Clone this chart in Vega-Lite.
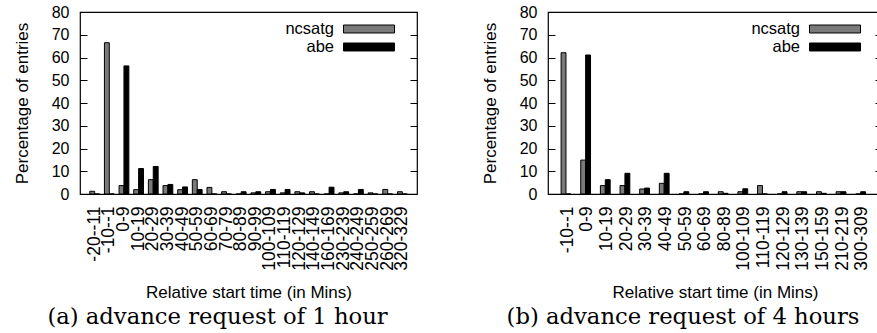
{
  "$schema": "https://vega.github.io/schema/vega-lite/v6.json",
  "background": "white",
  "padding": {"left": 12, "top": 3, "right": 0, "bottom": 0},
  "datasets": {
    "a": [
      {"range": "-20--11", "series": "ncsatg", "pct": 1.2}, {"range": "-20--11", "series": "abe", "pct": 0},
      {"range": "-10--1", "series": "ncsatg", "pct": 66.5}, {"range": "-10--1", "series": "abe", "pct": 0},
      {"range": "0-9", "series": "ncsatg", "pct": 3.7}, {"range": "0-9", "series": "abe", "pct": 56.3},
      {"range": "10-19", "series": "ncsatg", "pct": 1.9}, {"range": "10-19", "series": "abe", "pct": 11.2},
      {"range": "20-29", "series": "ncsatg", "pct": 6.3}, {"range": "20-29", "series": "abe", "pct": 12.1},
      {"range": "30-39", "series": "ncsatg", "pct": 3.7}, {"range": "30-39", "series": "abe", "pct": 4.2},
      {"range": "40-49", "series": "ncsatg", "pct": 1.9}, {"range": "40-49", "series": "abe", "pct": 3.1},
      {"range": "50-59", "series": "ncsatg", "pct": 6.3}, {"range": "50-59", "series": "abe", "pct": 2.0},
      {"range": "60-69", "series": "ncsatg", "pct": 2.9}, {"range": "60-69", "series": "abe", "pct": 0},
      {"range": "70-79", "series": "ncsatg", "pct": 1.0}, {"range": "70-79", "series": "abe", "pct": 0},
      {"range": "80-89", "series": "ncsatg", "pct": 0}, {"range": "80-89", "series": "abe", "pct": 1.0},
      {"range": "90-99", "series": "ncsatg", "pct": 0.5}, {"range": "90-99", "series": "abe", "pct": 1.0},
      {"range": "100-109", "series": "ncsatg", "pct": 1.0}, {"range": "100-109", "series": "abe", "pct": 2.0},
      {"range": "110-119", "series": "ncsatg", "pct": 0.5}, {"range": "110-119", "series": "abe", "pct": 2.0},
      {"range": "120-129", "series": "ncsatg", "pct": 1.0}, {"range": "120-129", "series": "abe", "pct": 0.5},
      {"range": "140-149", "series": "ncsatg", "pct": 1.0}, {"range": "140-149", "series": "abe", "pct": 0},
      {"range": "160-169", "series": "ncsatg", "pct": 0}, {"range": "160-169", "series": "abe", "pct": 3.0},
      {"range": "230-239", "series": "ncsatg", "pct": 0.5}, {"range": "230-239", "series": "abe", "pct": 1.0},
      {"range": "240-249", "series": "ncsatg", "pct": 0}, {"range": "240-249", "series": "abe", "pct": 2.0},
      {"range": "250-259", "series": "ncsatg", "pct": 0.5}, {"range": "250-259", "series": "abe", "pct": 0},
      {"range": "260-269", "series": "ncsatg", "pct": 2.0}, {"range": "260-269", "series": "abe", "pct": 0},
      {"range": "320-329", "series": "ncsatg", "pct": 1.0}, {"range": "320-329", "series": "abe", "pct": 0}
    ],
    "b": [
      {"range": "-10--1", "series": "ncsatg", "pct": 62.1}, {"range": "-10--1", "series": "abe", "pct": 0},
      {"range": "0-9", "series": "ncsatg", "pct": 14.9}, {"range": "0-9", "series": "abe", "pct": 61.1},
      {"range": "10-19", "series": "ncsatg", "pct": 3.7}, {"range": "10-19", "series": "abe", "pct": 6.3},
      {"range": "20-29", "series": "ncsatg", "pct": 3.7}, {"range": "20-29", "series": "abe", "pct": 9.1},
      {"range": "30-39", "series": "ncsatg", "pct": 2.2}, {"range": "30-39", "series": "abe", "pct": 2.6},
      {"range": "40-49", "series": "ncsatg", "pct": 4.7}, {"range": "40-49", "series": "abe", "pct": 9.1},
      {"range": "50-59", "series": "ncsatg", "pct": 0}, {"range": "50-59", "series": "abe", "pct": 1.0},
      {"range": "60-69", "series": "ncsatg", "pct": 0}, {"range": "60-69", "series": "abe", "pct": 1.0},
      {"range": "80-89", "series": "ncsatg", "pct": 1.0}, {"range": "80-89", "series": "abe", "pct": 0.3},
      {"range": "100-109", "series": "ncsatg", "pct": 1.0}, {"range": "100-109", "series": "abe", "pct": 2.3},
      {"range": "110-119", "series": "ncsatg", "pct": 3.7}, {"range": "110-119", "series": "abe", "pct": 0},
      {"range": "120-129", "series": "ncsatg", "pct": 0}, {"range": "120-129", "series": "abe", "pct": 1.0},
      {"range": "130-139", "series": "ncsatg", "pct": 1.0}, {"range": "130-139", "series": "abe", "pct": 1.0},
      {"range": "150-159", "series": "ncsatg", "pct": 1.0}, {"range": "150-159", "series": "abe", "pct": 0.3},
      {"range": "210-219", "series": "ncsatg", "pct": 1.0}, {"range": "210-219", "series": "abe", "pct": 1.0},
      {"range": "300-309", "series": "ncsatg", "pct": 0}, {"range": "300-309", "series": "abe", "pct": 1.0}
    ]
  },
  "config": {
    "font": "Liberation Sans",
    "view": {"stroke": "black", "strokeWidth": 1.2},
    "concat": {"spacing": 61},
    "axis": {"grid": false, "domain": false, "labelColor": "black", "titleColor": "black", "tickColor": "black", "labelFontSize": 16, "titleFontSize": 17, "titleFontWeight": "normal"},
    "axisX": {"labelAngle": -90, "ticks": false, "labelPadding": 12, "labelOverlap": false, "labelBound": false, "labelFontSize": 17.5, "titlePadding": 14},
    "legend": {"title": null, "orient": "none", "symbolType": "M-3,-0.47H3V0.47H-3Z", "symbolSize": 289, "symbolStrokeColor": "black", "symbolStrokeWidth": 1, "labelFontSize": 16.5, "labelColor": "black", "labelAlign": "right", "labelOffset": -44, "rowPadding": 0, "labelLimit": 0, "padding": 0},
    "title": {"orient": "bottom", "anchor": "middle", "font": "DejaVu Serif", "fontSize": 22.7, "fontWeight": "normal", "color": "black", "offset": 6}
  },
  "resolve": {"scale": {"fill": "independent"}, "legend": {"fill": "independent"}},
  "hconcat": [
    {
      "width": 337, "height": 182,
      "data": {"name": "a"},
      "title": {"text": "(a) advance request of 1 hour", "dx": -31},
      "layer": [
        {
          "mark": {"type": "bar", "stroke": "black", "strokeWidth": 1},
          "encoding": {
            "x": {"field": "range", "type": "nominal", "sort": null, "scale": {"paddingInner": 0.333, "paddingOuter": 0.667}, "axis": {"title": "Relative start time (in Mins)"}},
            "xOffset": {"field": "series", "type": "nominal", "sort": ["ncsatg", "abe"], "scale": {"paddingInner": 0, "paddingOuter": 0}},
            "y": {"field": "pct", "type": "quantitative", "scale": {"domain": [0, 80], "nice": false},
                  "axis": {"orient": "left", "values": [0, 10, 20, 30, 40, 50, 60, 70, 80], "tickSize": -7, "labelPadding": 18, "title": "Percentage of entries", "titlePadding": 20}},
            "fill": {"field": "series", "type": "nominal", "scale": {"domain": ["ncsatg", "abe"], "range": ["#7a7a7a", "#000000"]}, "legend": {"legendX": 280, "legendY": 8}}
          }
        },
        {
          "mark": {"type": "bar", "opacity": 0},
          "encoding": {
            "x": {"field": "range", "type": "nominal", "sort": null, "axis": {"title": "Relative start time (in Mins)"}},
            "xOffset": {"field": "series", "type": "nominal", "sort": ["ncsatg", "abe"]},
            "y": {"field": "pct", "type": "quantitative", "axis": {"orient": "right", "values": [10, 20, 30, 40, 50, 60, 70], "labels": false, "tickSize": -7, "title": null}}
          }
        }
      ],
      "resolve": {"axis": {"y": "independent"}}
    },
    {
      "width": 334, "height": 182,
      "data": {"name": "b"},
      "title": {"text": "(b) advance request of 4 hours", "dx": -32},
      "layer": [
        {
          "mark": {"type": "bar", "stroke": "black", "strokeWidth": 1},
          "encoding": {
            "x": {"field": "range", "type": "nominal", "sort": null, "scale": {"paddingInner": 0.333, "paddingOuter": 0.667}, "axis": {"title": "Relative start time (in Mins)"}},
            "xOffset": {"field": "series", "type": "nominal", "sort": ["ncsatg", "abe"], "scale": {"paddingInner": 0, "paddingOuter": 0}},
            "y": {"field": "pct", "type": "quantitative", "scale": {"domain": [0, 80], "nice": false},
                  "axis": {"orient": "left", "values": [0, 10, 20, 30, 40, 50, 60, 70, 80], "tickSize": -7, "labelPadding": 18, "title": "Percentage of entries", "titlePadding": 20}},
            "fill": {"field": "series", "type": "nominal", "scale": {"domain": ["ncsatg", "abe"], "range": ["#7a7a7a", "#000000"]}, "legend": {"legendX": 278, "legendY": 8}}
          }
        },
        {
          "mark": {"type": "bar", "opacity": 0},
          "encoding": {
            "x": {"field": "range", "type": "nominal", "sort": null, "axis": {"title": "Relative start time (in Mins)"}},
            "xOffset": {"field": "series", "type": "nominal", "sort": ["ncsatg", "abe"]},
            "y": {"field": "pct", "type": "quantitative", "axis": {"orient": "right", "values": [10, 20, 30, 40, 50, 60, 70], "labels": false, "tickSize": -7, "title": null}}
          }
        }
      ],
      "resolve": {"axis": {"y": "independent"}}
    }
  ]
}
